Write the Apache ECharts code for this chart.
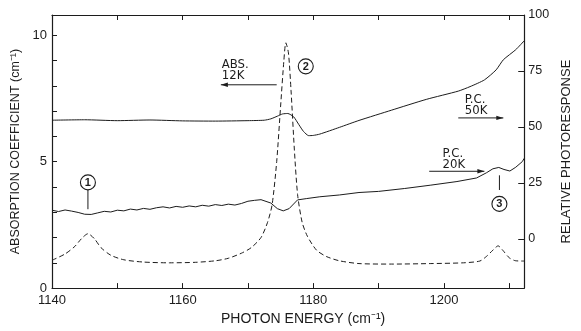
<!DOCTYPE html>
<html><head><meta charset="utf-8">
<script src="https://cdn.jsdelivr.net/npm/echarts@6/dist/echarts.min.js"></script>
<style>html,body{margin:0;padding:0;background:#fff}#c{width:581px;height:331px}</style>
</head><body><div id="c"></div>
<script>
// ---- tick labels ----
const xTickLabels = [1140, 1160, 1180, 1200];
const leftTickLabels = [0, 5, 10];
const rightTickLabels = [0, 25, 50, 75, 100];

// ---- absorption at 12K (dashed, left axis, cm^-1) ----
const absX = [1140,1142,1143.5,1144.5,1145.5,1146.5,1147.5,1149,1151,1154,1158,1162,1165,1167,1169,1170.5,1172,1173,1173.7,1174.4,1175,1175.5,1175.8,1176.2,1176.6,1177.1,1177.6,1178.3,1179.1,1180.5,1182,1184,1187,1192,1198,1203,1205.5,1206.5,1207.5,1208.3,1209,1210,1211,1212.3];
const absY = [1.10,1.35,1.65,1.95,2.15,1.95,1.6,1.3,1.12,1.03,1.0,1.02,1.08,1.18,1.38,1.6,2.0,2.6,3.3,5.0,7.2,9.0,9.7,9.3,7.8,5.5,3.7,2.6,2.05,1.5,1.25,1.08,0.97,0.95,0.97,1.0,1.07,1.25,1.5,1.67,1.5,1.2,1.08,1.07];

// ---- photoresponse 20K (solid, right axis) ----
const pc20X = [1140,1141,1142,1143,1144,1145,1146,1147,1148,1149,1150,1151,1152,1153,1154,1155,1156,1157,1158,1159,1160,1161,1162,1163,1164,1165,1166,1167,1168,1169,1170,1171,1172,1173.5,1174.5,1175.4,1176.3,1177.6,1179,1181,1184,1187,1190,1194,1198,1202,1205,1206.5,1207.5,1208.4,1209.2,1210.1,1211,1212,1212.3];
const pc20Y = [12.8,12.2,12.9,12.4,11.8,11.0,10.9,11.6,12.3,12.0,12.8,12.5,13.3,12.9,13.6,13.2,13.9,14.3,13.8,14.5,14.1,14.7,14.3,15.0,14.6,15.3,14.9,15.5,15.1,15.8,16.8,17.2,17.5,16.0,13.5,12.5,13.5,17.4,18.0,18.8,19.6,20.7,21.2,22.5,24.0,25.6,27.2,29.5,31.3,31.9,31.0,30.3,32.0,34.5,36.0];

// ---- photoresponse 50K (solid, right axis) ----
const pc50X = [1140,1145,1150,1155,1160,1165,1170,1172.5,1173.5,1174.5,1175.3,1176.1,1177,1177.8,1178.5,1179.3,1180,1181,1184,1187,1192,1197.3,1202.2,1204,1206.2,1208,1209.1,1211,1212.3];
const pc50Y = [53.0,53.2,52.8,53.1,52.7,52.6,52.8,53.0,53.6,54.8,55.8,56.0,54.5,51.0,48.0,46.1,46.2,46.8,49.8,52.9,57.5,62.3,66.0,68.0,71.0,75.5,80.0,84.5,88.5];

const FONT = 'Liberation Sans, Arial, sans-serif';
const NARROW = '"Liberation Sans Narrow", "DejaVu Sans Condensed", "Liberation Sans", sans-serif';
const INK = '#1c1c1c';
const zip = (xs, ys) => xs.map((x, i) => [x, ys[i]]);

const chart = echarts.init(document.getElementById('c'), null, {renderer: 'canvas'});

const xBase = {
  type: 'value', min: 1140, max: 1212.3, interval: 10,
  axisLine: {show: true, onZero: false, lineStyle: {color: INK, width: 1.2}},
  axisTick: {show: true, inside: true, length: 5, lineStyle: {color: INK, width: 1}},
  splitLine: {show: false}
};

chart.setOption({
  animation: false,
  backgroundColor: '#fff',
  grid: {left: 52, right: 38, top: 15, bottom: 35},
  xAxis: [
    Object.assign({}, xBase, {
      position: 'bottom',
      axisLabel: {formatter: v => xTickLabels.includes(v) ? String(v) : '', color: INK, fontFamily: FONT, fontSize: 13, margin: 6, showMaxLabel: false},
      name: 'PHOTON ENERGY (cm⁻¹)', nameLocation: 'middle', nameGap: 22,
      nameTextStyle: {color: INK, fontFamily: FONT, fontSize: 14, padding: [0, 0, 0, 30]}
    }),
    Object.assign({}, xBase, {position: 'top', axisLabel: {show: false}})
  ],
  yAxis: [
    {
      type: 'value', min: 0, max: 10.8, interval: 1, position: 'left',
      axisLine: {show: true, onZero: false, lineStyle: {color: INK, width: 1.2}},
      axisTick: {show: true, inside: true, length: 5, lineStyle: {color: INK}},
      axisLabel: {formatter: v => leftTickLabels.includes(v) ? String(v) : '', color: INK, fontFamily: FONT, fontSize: 13, margin: 5},
      splitLine: {show: false},
      name: 'ABSORPTION COEFFICIENT (cm⁻¹)', nameLocation: 'middle', nameGap: 20, nameRotate: 90,
      nameTextStyle: {color: INK, fontFamily: FONT, fontSize: 12.5}
    },
    {
      type: 'value', min: -22, max: 100, position: 'right',
      axisLine: {show: true, onZero: false, lineStyle: {color: INK, width: 1.2}},
      axisTick: {show: true, inside: true, length: 6, customValues: [0, 25, 50, 75], lineStyle: {color: INK}},
      axisLabel: {customValues: rightTickLabels, color: INK, fontFamily: FONT, fontSize: 12.5, margin: 4},
      splitLine: {show: false},
      name: 'RELATIVE PHOTORESPONSE', nameLocation: 'middle', nameGap: 24, nameRotate: 90,
      nameTextStyle: {color: INK, fontFamily: FONT, fontSize: 13}
    }
  ],
  series: [
    {name: 'ABS 12K', type: 'line', xAxisIndex: 0, yAxisIndex: 0, data: zip(absX, absY), symbol: 'none', smooth: 0.25,
     lineStyle: {color: INK, width: 1, type: [5, 3]}},
    {name: 'PC 20K', type: 'line', xAxisIndex: 0, yAxisIndex: 1, data: zip(pc20X, pc20Y), symbol: 'none',
     lineStyle: {color: INK, width: 1}},
    {name: 'PC 50K', type: 'line', xAxisIndex: 0, yAxisIndex: 1, data: zip(pc50X, pc50Y), symbol: 'none', smooth: 0.2,
     lineStyle: {color: INK, width: 1}}
  ]
});

// ---- annotations (data coordinates on bottom x / left y axes) ----
const annoTexts = [
  {t: 'ABS.', x: 1166.0, y: 9.1}, {t: '12K', x: 1166.0, y: 8.65},
  {t: 'P.C.', x: 1203.2, y: 7.72}, {t: '50K', x: 1203.2, y: 7.26},
  {t: 'P.C.', x: 1199.8, y: 5.57}, {t: '20K', x: 1199.8, y: 5.14}
];
const annoArrows = [
  {x1: 1174.4, x2: 1165.85, y: 8.04},
  {x1: 1202.2, x2: 1209.1, y: 6.73},
  {x1: 1197.75, x2: 1206.2, y: 4.62}
];
const annoCircles = [
  {t: '1', x: 1145.5, y: 4.18}, {t: '2', x: 1178.85, y: 8.77}, {t: '3', x: 1208.5, y: 3.33}
];
const annoLeaders = [
  {x: 1145.5, y1: 3.88, y2: 3.12}, {x: 1208.5, y1: 4.46, y2: 3.88}
];

const P = (x, y) => chart.convertToPixel({xAxisIndex: 0, yAxisIndex: 0}, [x, y]);
const g = [];
annoTexts.forEach(a => {
  const p = P(a.x, a.y);
  g.push({type: 'text', x: p[0], y: p[1], style: {text: a.t, fill: INK, font: '13px ' + NARROW, textVerticalAlign: 'top'}});
});
annoArrows.forEach(a => {
  const p1 = P(a.x1, a.y), p2 = P(a.x2, a.y);
  const dir = Math.sign(p2[0] - p1[0]);
  g.push({type: 'line', shape: {x1: p1[0], y1: p1[1], x2: p2[0], y2: p2[1]}, style: {stroke: INK, lineWidth: 1}});
  g.push({type: 'polygon', shape: {points: [[p2[0], p2[1]], [p2[0] - dir * 7, p2[1] - 2.2], [p2[0] - dir * 7, p2[1] + 2.2]]}, style: {fill: INK}});
});
annoCircles.forEach(a => {
  const p = P(a.x, a.y);
  g.push({type: 'circle', shape: {cx: p[0], cy: p[1], r: 7.5}, style: {stroke: INK, fill: 'none', lineWidth: 1.1}});
  g.push({type: 'text', x: p[0], y: p[1] + 0.5, style: {text: a.t, fill: INK, font: 'bold 11px ' + FONT, textAlign: 'center', textVerticalAlign: 'middle'}});
});
annoLeaders.forEach(a => {
  const p1 = P(a.x, a.y1), p2 = P(a.x, a.y2);
  g.push({type: 'line', shape: {x1: p1[0], y1: p1[1], x2: p2[0], y2: p2[1]}, style: {stroke: INK, lineWidth: 1}});
});
chart.setOption({graphic: {elements: g}});
</script>
</body></html>
